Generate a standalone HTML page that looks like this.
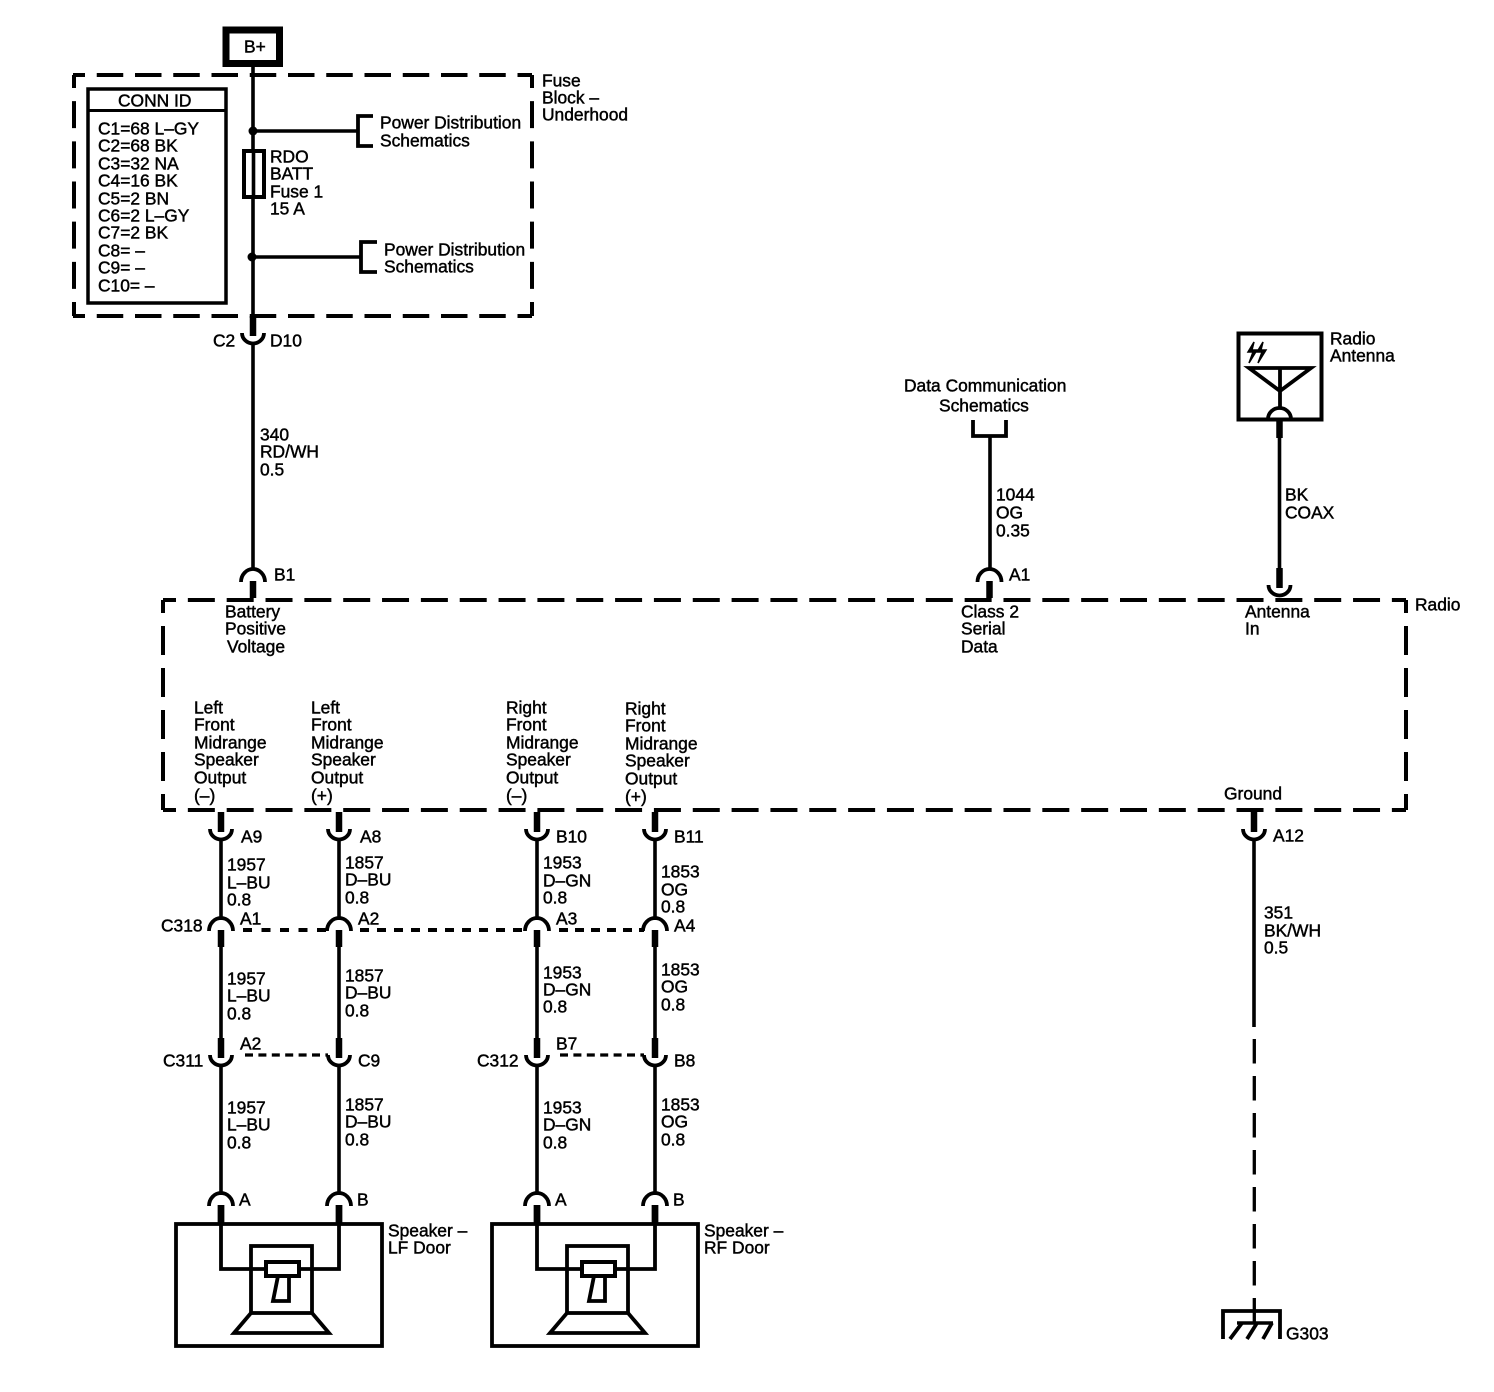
<!DOCTYPE html>
<html><head><meta charset="utf-8"><style>
html,body{margin:0;padding:0;background:#fff}
svg{display:block}
text{font-family:"Liberation Sans",sans-serif;font-size:17.4px;fill:#000;stroke:#000;stroke-width:.45;transform:translateY(.7px)}
.w{stroke:#000;stroke-width:3.600;fill:none}
.t{stroke:#000;stroke-width:6.500;fill:none}
.b{stroke:#000;stroke-width:3.800;fill:none}
.dh{stroke:#000;stroke-width:4;fill:none;stroke-dasharray:27 11.84;stroke-dashoffset:14}
.dv{stroke:#000;stroke-width:4;fill:none;stroke-dasharray:29 13;stroke-dashoffset:16}
.fh{stroke:#000;stroke-width:4;fill:none;stroke-dasharray:26.500 11.750;stroke-dashoffset:14.500}
.fv{stroke:#000;stroke-width:4;fill:none;stroke-dasharray:27 13.170;stroke-dashoffset:14}
.n{stroke:#000;stroke-width:3.300;fill:none;stroke-dasharray:8 5.400}
</style></head><body>
<svg width="1494" height="1392" viewBox="0 0 1494 1392" xmlns="http://www.w3.org/2000/svg">
<defs>
<g id="cup"><path class="t" d="M0,-17V3"/><path class="b" d="M-11,0A11,10.500 0 0 0 11,0"/></g>
<g id="arch"><path class="t" d="M0,0V17"/><path class="b" d="M-12,1A12,13 0 0 1 12,1"/></g>
<g id="spk">
<rect class="b" x="176" y="1224" width="206" height="122"/>
<path class="t" d="M221,1205V1224M339,1205V1224"/>
<path class="b" d="M221,1224V1269H339V1224"/>
<rect class="b" x="251" y="1246" width="61" height="67"/>
<rect x="266" y="1262" width="33" height="14" fill="#fff" stroke="#000" stroke-width="4"/>
<path class="b" stroke-linejoin="miter" d="M278,1276L273,1301H289V1276"/>
<path class="b" d="M251,1313L234,1333H329L312,1313"/>
</g>
</defs>

<!-- B+ -->
<rect x="226" y="30" width="53.500" height="33.500" fill="none" stroke="#000" stroke-width="7"/>
<text x="244" y="52">B+</text>

<!-- Fuse block -->
<path class="fh" d="M73,75H532M73,316H532"/>
<path class="fv" d="M74,75V316M532,75V316"/>
<path class="w" d="M253,66V150M253,197V320"/>
<rect x="88" y="89" width="138" height="214" fill="none" stroke="#000" stroke-width="3.500"/>
<path stroke="#000" stroke-width="3" d="M88,110.500H226"/>
<text x="118" y="106">CONN ID</text>
<text x="98" y="134">C1=68 L–GY</text>
<text x="98" y="151">C2=68 BK</text>
<text x="98" y="169">C3=32 NA</text>
<text x="98" y="186">C4=16 BK</text>
<text x="98" y="204">C5=2 BN</text>
<text x="98" y="221">C6=2 L–GY</text>
<text x="98" y="238">C7=2 BK</text>
<text x="98" y="256">C8= –</text>
<text x="98" y="273">C9= –</text>
<text x="98" y="291">C10= –</text>
<circle cx="253" cy="131" r="4.500"/><circle cx="252" cy="257" r="4.500"/>
<path class="w" d="M253,131H358M253,257H361"/>
<path class="b" d="M373,116H358V146H373M377,242H361V272H377"/>
<rect x="244" y="151" width="20" height="46" fill="#fff" stroke="#000" stroke-width="4"/>
<path class="w" d="M253.500,150V198"/>
<text x="270" y="162">RDO</text><text x="270" y="179">BATT</text><text x="270" y="197">Fuse 1</text><text x="270" y="214">15 A</text>
<text x="380" y="128">Power Distribution</text><text x="380" y="146">Schematics</text>
<text x="384" y="255">Power Distribution</text><text x="384" y="272">Schematics</text>
<text x="542" y="86">Fuse</text><text x="542" y="103">Block –</text><text x="542" y="120">Underhood</text>

<!-- B+ wire down -->
<use href="#cup" x="253" y="333"/>
<path class="w" d="M253,344V570"/>
<use href="#arch" x="253" y="581"/>
<text x="213" y="346">C2</text><text x="270" y="346">D10</text>
<text x="260" y="440">340</text><text x="260" y="457">RD/WH</text><text x="260" y="475">0.5</text>
<text x="274" y="580">B1</text>

<!-- Radio -->
<path class="dh" d="M163,600H1406M163,810H1406"/>
<path class="dv" d="M163,600V810M1406,600V810"/>
<text x="1415" y="610">Radio</text>
<text x="225" y="617">Battery</text><text x="225" y="634">Positive</text><text x="227" y="652">Voltage</text>
<text x="961" y="617">Class 2</text><text x="961" y="634">Serial</text><text x="961" y="652">Data</text>
<text x="1245" y="617">Antenna</text><text x="1245" y="634">In</text>
<text x="194" y="713">Left</text><text x="194" y="730">Front</text><text x="194" y="748">Midrange</text><text x="194" y="765">Speaker</text><text x="194" y="783">Output</text><text x="194" y="801">(–)</text>
<text x="311" y="713">Left</text><text x="311" y="730">Front</text><text x="311" y="748">Midrange</text><text x="311" y="765">Speaker</text><text x="311" y="783">Output</text><text x="311" y="801">(+)</text>
<text x="506" y="713">Right</text><text x="506" y="730">Front</text><text x="506" y="748">Midrange</text><text x="506" y="765">Speaker</text><text x="506" y="783">Output</text><text x="506" y="801">(–)</text>
<text x="625" y="714">Right</text><text x="625" y="731">Front</text><text x="625" y="749">Midrange</text><text x="625" y="766">Speaker</text><text x="625" y="784">Output</text><text x="625" y="802">(+)</text>
<text x="1224" y="799">Ground</text>

<!-- Data comm -->
<text x="904" y="391">Data Communication</text><text x="939" y="411">Schematics</text>
<path class="b" d="M973,420V436H1006V420"/>
<path class="w" d="M990,436V570"/>
<use href="#arch" x="989.500" y="581"/>
<text x="1009" y="580">A1</text>
<text x="996" y="500">1044</text><text x="996" y="518">OG</text><text x="996" y="536">0.35</text>

<!-- Antenna -->
<rect x="1238.500" y="333.500" width="83" height="86" fill="none" stroke="#000" stroke-width="4"/>
<path class="b" d="M1249,368H1311L1280,391ZM1280,368V408"/>
<path d="M1254,342L1248,352L1253,352L1249,363L1257,350L1252,350ZM1263,342L1257,352L1262,352L1258,363L1266,350L1261,350Z" stroke="#000" stroke-width="1.500"/>
<path class="b" d="M1268,419A11.500,11 0 0 1 1291,419"/>
<path class="t" d="M1279.500,420V438"/>
<path class="w" d="M1279.500,438V570"/>
<use href="#cup" x="1279.500" y="585"/>
<text x="1330" y="344">Radio</text><text x="1330" y="361">Antenna</text>
<text x="1285" y="500">BK</text><text x="1285" y="518">COAX</text>

<!-- Outputs -->
<use href="#cup" x="221" y="829"/><use href="#cup" x="339" y="829"/><use href="#cup" x="537" y="829"/><use href="#cup" x="655" y="829"/>
<path class="w" d="M221,840V920M339,840V920M537,840V920M655,840V920"/>
<text x="241" y="842">A9</text><text x="360" y="842">A8</text><text x="556" y="842">B10</text><text x="674" y="842">B11</text>
<text x="227" y="870">1957</text><text x="227" y="888">L–BU</text><text x="227" y="905">0.8</text>
<text x="345" y="868">1857</text><text x="345" y="885">D–BU</text><text x="345" y="903">0.8</text>
<text x="543" y="868">1953</text><text x="543" y="886">D–GN</text><text x="543" y="903">0.8</text>
<text x="661" y="877">1853</text><text x="661" y="895">OG</text><text x="661" y="912">0.8</text>

<!-- C318 -->
<path stroke="#000" stroke-width="4" stroke-dasharray="9 9.500" fill="none" d="M243,930H328"/>
<path stroke="#000" stroke-width="4" stroke-dasharray="9 8" fill="none" d="M360,930H526"/>
<path stroke="#000" stroke-width="4" stroke-dasharray="9 7" fill="none" d="M559,930H644"/>
<use href="#arch" x="221" y="930"/><use href="#arch" x="339" y="930"/><use href="#arch" x="537" y="930"/><use href="#arch" x="655" y="930"/>
<path class="w" d="M221,945V1040M339,945V1040M537,945V1040M655,945V1040"/>
<text x="161" y="931">C318</text><text x="240" y="924">A1</text><text x="358" y="924">A2</text><text x="556" y="924">A3</text><text x="674" y="931">A4</text>
<text x="227" y="984">1957</text><text x="227" y="1001">L–BU</text><text x="227" y="1019">0.8</text>
<text x="345" y="981">1857</text><text x="345" y="998">D–BU</text><text x="345" y="1016">0.8</text>
<text x="543" y="978">1953</text><text x="543" y="995">D–GN</text><text x="543" y="1012">0.8</text>
<text x="661" y="975">1853</text><text x="661" y="992">OG</text><text x="661" y="1010">0.8</text>

<!-- C311/C312 -->
<path class="n" d="M245,1055H328M560,1055H644"/>
<use href="#cup" x="221" y="1055"/><use href="#cup" x="339" y="1055"/><use href="#cup" x="537" y="1055"/><use href="#cup" x="655" y="1055"/>
<path class="w" d="M221,1066V1195M339,1066V1195M537,1066V1195M655,1066V1195"/>
<text x="163" y="1066">C311</text><text x="240" y="1049">A2</text><text x="358" y="1066">C9</text>
<text x="477" y="1066">C312</text><text x="556" y="1049">B7</text><text x="674" y="1066">B8</text>
<text x="227" y="1113">1957</text><text x="227" y="1130">L–BU</text><text x="227" y="1148">0.8</text>
<text x="345" y="1110">1857</text><text x="345" y="1127">D–BU</text><text x="345" y="1145">0.8</text>
<text x="543" y="1113">1953</text><text x="543" y="1130">D–GN</text><text x="543" y="1148">0.8</text>
<text x="661" y="1110">1853</text><text x="661" y="1127">OG</text><text x="661" y="1145">0.8</text>

<!-- Speakers -->
<use href="#arch" x="221" y="1205"/><use href="#arch" x="339" y="1205"/><use href="#arch" x="537" y="1205"/><use href="#arch" x="655" y="1205"/>
<text x="239" y="1205">A</text><text x="357" y="1205">B</text><text x="555" y="1205">A</text><text x="673" y="1205">B</text>
<use href="#spk"/><use href="#spk" x="316"/>
<text x="388" y="1236">Speaker –</text><text x="388" y="1253">LF Door</text>
<text x="704" y="1236">Speaker –</text><text x="704" y="1253">RF Door</text>

<!-- Ground -->
<use href="#cup" x="1254" y="829"/>
<path class="w" d="M1254,840V1027"/>
<path stroke="#000" stroke-width="3.300" stroke-dasharray="24.500 12.500" fill="none" d="M1254.300,1039V1298"/>
<path stroke="#000" stroke-width="3.300" fill="none" d="M1254.300,1298V1323"/>
<text x="1273" y="841">A12</text>
<text x="1264" y="918">351</text><text x="1264" y="936">BK/WH</text><text x="1264" y="953">0.5</text>
<path class="b" d="M1223,1339V1311H1280V1339"/>
<path class="w" d="M1237,1323H1273"/>
<path class="b" d="M1242,1323L1230,1339M1257,1323L1247,1339M1272,1323L1263,1339"/>
<text x="1286" y="1339">G303</text>
</svg>
</body></html>
